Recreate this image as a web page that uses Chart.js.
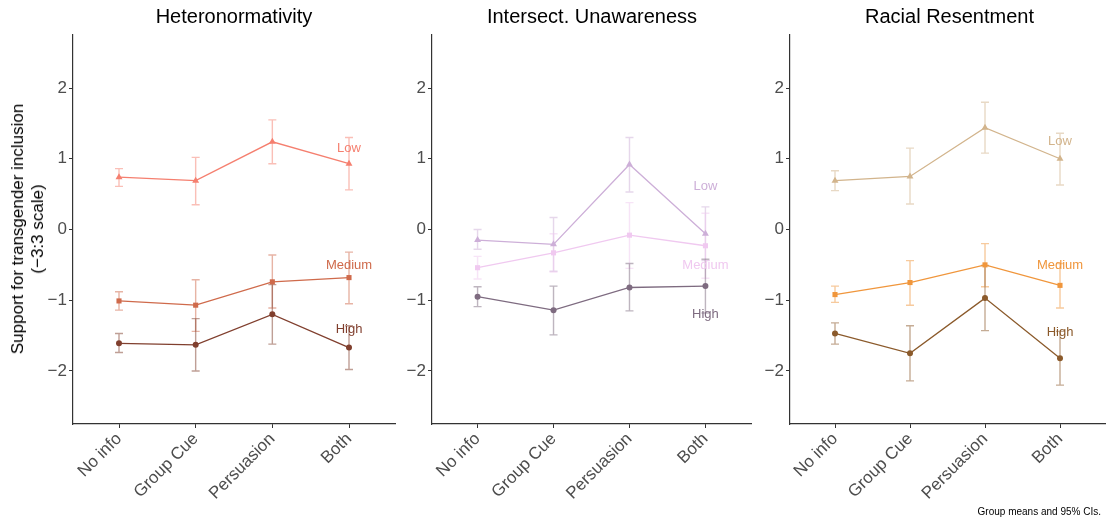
<!DOCTYPE html>
<html>
<head>
<meta charset="utf-8">
<script src="https://cdn.jsdelivr.net/npm/chart.js@4.4.1/dist/chart.umd.min.js"></script>
<style>
  body { margin: 0; background: #fff; font-family: "Liberation Sans", Arial, sans-serif; }
  #wrap { position: relative; width: 1109px; height: 523px; overflow: hidden; }
  .panel { position: absolute; top: 0; }
  .ptitle { position: absolute; top: 5px; font-size: 20px; color: #000; text-align: center; white-space: nowrap; }
  #ytitle { position: absolute; left: 28px; top: 229px; transform: translate(-50%, -50%) rotate(-90deg);
            font-size: 17px; color: #000; text-align: center; white-space: nowrap; line-height: 20px; }
  #caption { position: absolute; right: 8px; bottom: 6px; font-size: 10px; color: #000; }
</style>
</head>
<body>
<div id="wrap">
  <div class="panel" style="left:0px"><canvas id="c1" width="400" height="523"></canvas></div>
  <div class="panel" style="left:400px"><canvas id="c2" width="355" height="523"></canvas></div>
  <div class="panel" style="left:757px"><canvas id="c3" width="352" height="523"></canvas></div>
  <div class="ptitle" id="t1" style="left:73px;width:322px">Heteronormativity</div>
  <div class="ptitle" id="t2" style="left:432px;width:320px">Intersect. Unawareness</div>
  <div class="ptitle" id="t3" style="left:790px;width:319px">Racial Resentment</div>
  <div id="ytitle">Support for transgender inclusion<br>(−3:3 scale)</div>
  <div id="caption">Group means and 95% CIs.</div>
</div>
<script>
// ======== data ========
const categories = ['No info', 'Group Cue', 'Persuasion', 'Both'];
const levels = ['Low', 'Medium', 'High'];
const yTicks = [-2, -1, 0, 1, 2];

// Heteronormativity
const heteroLow = [0.74, 0.69, 1.24, 0.93];
const heteroLowLo = [0.61, 0.35, 0.93, 0.56];
const heteroLowHi = [0.86, 1.02, 1.55, 1.30];
const heteroMed = [-1.01, -1.07, -0.74, -0.68];
const heteroMedLo = [-1.14, -1.44, -1.11, -1.05];
const heteroMedHi = [-0.88, -0.71, -0.36, -0.32];
const heteroHigh = [-1.61, -1.63, -1.20, -1.67];
const heteroHighLo = [-1.74, -2.00, -1.62, -1.98];
const heteroHighHi = [-1.47, -1.26, -0.78, -1.36];
const heteroLabelY = [1.14, -0.51, -1.41];

// Intersect. Unawareness
const interLow = [-0.15, -0.21, 0.92, -0.06];
const interLowLo = [-0.28, -0.59, 0.53, -0.44];
const interLowHi = [0.00, 0.17, 1.30, 0.32];
const interMed = [-0.54, -0.33, -0.08, -0.23];
const interMedLo = [-0.70, -0.60, -0.55, -0.69];
const interMedHi = [-0.38, -0.06, 0.38, 0.23];
const interHigh = [-0.95, -1.14, -0.82, -0.80];
const interHighLo = [-1.09, -1.49, -1.15, -1.18];
const interHighHi = [-0.81, -0.80, -0.48, -0.42];
const interLabelY = [0.61, -0.51, -1.20];

// Racial Resentment
const racialLow = [0.69, 0.75, 1.44, 1.00];
const racialLowLo = [0.55, 0.36, 1.08, 0.63];
const racialLowHi = [0.83, 1.15, 1.80, 1.36];
const racialMed = [-0.92, -0.75, -0.50, -0.79];
const racialMedLo = [-1.03, -1.07, -0.81, -1.11];
const racialMedHi = [-0.80, -0.44, -0.20, -0.48];
const racialHigh = [-1.47, -1.75, -0.97, -1.82];
const racialHighLo = [-1.62, -2.14, -1.43, -2.20];
const racialHighHi = [-1.32, -1.36, -0.51, -1.44];
const racialLabelY = [1.24, -0.51, -1.45];

const heteroColors = ['#f57f6f', '#cf6a4b', '#803f2e'];
const interColors = ['#cdafd8', '#f0c9f0', '#7e6b80'];
const racialColors = ['#d2b48c', '#f0963c', '#8b5a2b'];
const markers = ['triangle', 'rect', 'circle'];
const markerSize = [4, 3.6, 3];

function alpha(hex, a) {
    const n = parseInt(hex.slice(1), 16);
    return `rgba(${(n >> 16) & 255}, ${(n >> 8) & 255}, ${n & 255}, ${a})`;
}

// error bars + end labels
const errorBarPlugin = {
    id: 'errorBars',
    beforeDatasetsDraw(chart) {
        const ctx = chart.ctx;
        const xs = chart.scales.x, ys = chart.scales.y;
        chart.data.datasets.forEach(ds => {
            ctx.save();
            ctx.strokeStyle = alpha(ds.borderColor, 0.5);
            ctx.lineWidth = 1.4;
            ds.errLo.forEach((lo, i) => {
                const px = xs.getPixelForValue(i);
                const p1 = ys.getPixelForValue(lo);
                const p2 = ys.getPixelForValue(ds.errHi[i]);
                ctx.beginPath();
                ctx.moveTo(px, p1); ctx.lineTo(px, p2);
                ctx.moveTo(px - 4, p1); ctx.lineTo(px + 4, p1);
                ctx.moveTo(px - 4, p2); ctx.lineTo(px + 4, p2);
                ctx.stroke();
            });
            ctx.restore();
        });
    },
    afterDatasetsDraw(chart) {
        const ctx = chart.ctx;
        const xs = chart.scales.x, ys = chart.scales.y;
        chart.data.datasets.forEach(ds => {
            ctx.save();
            ctx.fillStyle = ds.borderColor;
            ctx.font = '13px "Liberation Sans", Arial, sans-serif';
            ctx.textAlign = 'center';
            ctx.textBaseline = 'middle';
            ctx.fillText(ds.label, xs.getPixelForValue(categories.length - 1), ys.getPixelForValue(ds.labelY));
            ctx.restore();
        });
    }
};

function makePanel(id, yWidth, padRight, series, lows, highs, colors, labelY) {
    const datasets = levels.map((lv, k) => ({
        label: lv,
        data: series[k].map((v, i) => ({ x: i, y: v })),
        errLo: lows[k],
        errHi: highs[k],
        labelY: labelY[k],
        borderColor: colors[k],
        backgroundColor: colors[k],
        borderWidth: 1.3,
        pointStyle: markers[k],
        pointRadius: markerSize[k],
        pointBorderWidth: 0,
        tension: 0
    }));

    new Chart(document.getElementById(id), {
        type: 'line',
        data: { datasets: datasets },
        plugins: [errorBarPlugin],
        options: {
            responsive: false,
            animation: false,
            layout: { padding: { top: 35, right: padRight, left: 0, bottom: 0 } },
            plugins: { legend: { display: false }, tooltip: { enabled: false } },
            scales: {
                x: {
                    type: 'linear',
                    min: -0.6,
                    max: categories.length - 1 + 0.6,
                    afterBuildTicks: s => { s.ticks = categories.map((c, i) => ({ value: i })); },
                    afterFit: s => { s.height = 99; },
                    grid: { drawOnChartArea: false, tickLength: 4, color: '#333' },
                    border: { color: '#333', width: 1.2 },
                    ticks: {
                        minRotation: 45, maxRotation: 45,
                        color: '#4d4d4d',
                        font: { size: 17, family: '"Liberation Sans", Arial, sans-serif' },
                        padding: 1,
                        callback: v => categories[v]
                    }
                },
                y: {
                    min: -2.75,
                    max: 2.75,
                    afterBuildTicks: s => { s.ticks = yTicks.map(v => ({ value: v })); },
                    afterFit: s => { s.width = yWidth; },
                    grid: { drawOnChartArea: false, tickLength: 4, color: '#333' },
                    border: { color: '#333', width: 1.2 },
                    ticks: {
                        color: '#4d4d4d',
                        font: { size: 17, family: '"Liberation Sans", Arial, sans-serif' },
                        padding: 2,
                        callback: v => v < 0 ? '\u2212' + Math.abs(v) : String(v)
                    }
                }
            }
        }
    });
}

document.addEventListener('DOMContentLoaded', function() {
    makePanel('c1', 73, 5,
        [heteroLow, heteroMed, heteroHigh],
        [heteroLowLo, heteroMedLo, heteroHighLo],
        [heteroLowHi, heteroMedHi, heteroHighHi],
        heteroColors, heteroLabelY);
    makePanel('c2', 32, 3,
        [interLow, interMed, interHigh],
        [interLowLo, interMedLo, interHighLo],
        [interLowHi, interMedHi, interHighHi],
        interColors, interLabelY);
    makePanel('c3', 33, 1,
        [racialLow, racialMed, racialHigh],
        [racialLowLo, racialMedLo, racialHighLo],
        [racialLowHi, racialMedHi, racialHighHi],
        racialColors, racialLabelY);
});
</script>
</body>
</html>
